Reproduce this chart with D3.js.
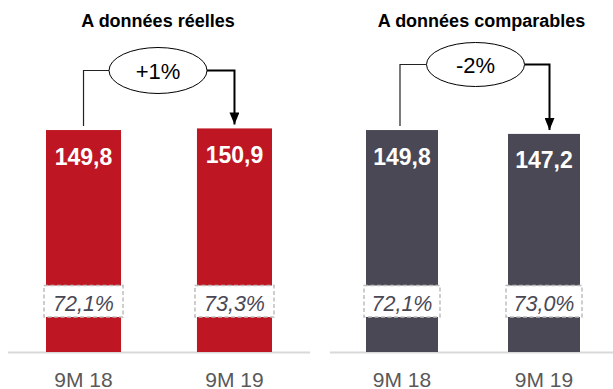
<!DOCTYPE html>
<html>
<head>
<meta charset="utf-8">
<script src="https://cdn.jsdelivr.net/npm/d3@7"></script>
<style>
  html, body { margin: 0; padding: 0; background: #fff; }
  svg { display: block; font-family: "Liberation Sans", Arial, sans-serif; }
</style>
</head>
<body>
<svg id="chart" width="613" height="389"></svg>
<script>
// Chart data
const categories = ["9M 18", "9M 19"];
const panelTitles = ["A données réelles", "A données comparables"];
const reportedValues = [149.8, 150.9];
const comparableValues = [149.8, 147.2];
const reportedRatios = ["72,1%", "73,3%"];
const comparableRatios = ["72,1%", "73,0%"];
const changeLabels = ["+1%", "-2%"];

const fmt = v => d3.format(".1f")(v).replace(".", ",");

const svg = d3.select("#chart");
const baseY = 352.5;
const y = d3.scaleLinear().domain([0, 160]).range([baseY, 114.9]);

const panels = [
  { title: panelTitles[0], values: reportedValues, ratios: reportedRatios, change: changeLabels[0],
    color: "#be1723", range: [8, 310], padIn: 0.503, padOut: 0.2517, line: [8, 310],
    titleX: 158, ell: { cx: 158, cy: 70.5, rx: 49, ry: 23 }, dx: [0, 0] },
  { title: panelTitles[1], values: comparableValues, ratios: comparableRatios, change: changeLabels[1],
    color: "#4a4854", range: [330, 616], padIn: 0.493, padOut: 0.2535, line: [330, 613],
    titleX: 481.5, ell: { cx: 475.5, cy: 64.5, rx: 49, ry: 22 }, dx: [-2, 5.5] }
];

// arrowhead marker, drawn along +x so orient="auto" points it down the path
svg.append("defs").append("marker")
  .attr("id", "arrow").attr("viewBox", "0 0 12 10")
  .attr("refX", 12).attr("refY", 5)
  .attr("markerWidth", 12).attr("markerHeight", 10)
  .attr("markerUnits", "userSpaceOnUse").attr("orient", "auto")
  .append("path").attr("d", "M0,0 L12,5 L0,10 Z").attr("fill", "#000");

panels.forEach(p => {
  const x = d3.scaleBand().domain(categories).range(p.range)
    .paddingInner(p.padIn).paddingOuter(p.padOut);
  const g = svg.append("g");

  // title
  g.append("text").attr("x", p.titleX).attr("y", 26.5)
    .attr("text-anchor", "middle").attr("font-size", 18).attr("font-weight", "bold")
    .attr("fill", "#000").text(p.title);

  // baseline
  g.append("line").attr("x1", p.line[0]).attr("x2", p.line[1])
    .attr("y1", baseY).attr("y2", baseY)
    .attr("stroke", "#d9d9d9").attr("stroke-width", 2);

  // bars
  g.selectAll("rect.bar").data(p.values).join("rect").attr("class", "bar")
    .attr("x", (d, i) => x(categories[i]))
    .attr("y", d => y(d))
    .attr("width", x.bandwidth())
    .attr("height", d => baseY - 0.5 - y(d))
    .attr("fill", p.color);

  // value labels
  g.selectAll("text.val").data(p.values).join("text").attr("class", "val")
    .attr("x", (d, i) => x(categories[i]) + x.bandwidth() / 2)
    .attr("y", d => y(d) + 34.5)
    .attr("text-anchor", "middle").attr("font-size", 23).attr("font-weight", "bold")
    .attr("fill", "#fff").text(d => fmt(d));

  // ratio boxes
  g.selectAll("rect.ratio").data(p.ratios).join("rect").attr("class", "ratio")
    .attr("x", (d, i) => x(categories[i]) - 2)
    .attr("y", 285.5)
    .attr("width", x.bandwidth() + 4)
    .attr("height", 31.5)
    .attr("fill", "#fff").attr("stroke", "#bdbdbd")
    .attr("stroke-width", 1.5).attr("stroke-dasharray", "4,2.5");
  g.selectAll("text.ratio").data(p.ratios).join("text").attr("class", "ratio")
    .attr("x", (d, i) => x(categories[i]) + x.bandwidth() / 2)
    .attr("y", 310.5)
    .attr("text-anchor", "middle").attr("font-size", 21.5).attr("font-style", "italic")
    .attr("fill", "#4a4854").text(d => d);

  // category labels
  g.selectAll("text.cat").data(categories).join("text").attr("class", "cat")
    .attr("x", d => x(d) + x.bandwidth() / 2)
    .attr("y", 386.5)
    .attr("text-anchor", "middle").attr("font-size", 21)
    .attr("fill", "#595959").text(d => d);

  // change connector
  const e = p.ell;
  const x0 = x(categories[0]) + x.bandwidth() / 2 + p.dx[0];
  const x1 = x(categories[1]) + x.bandwidth() / 2 + p.dx[1];
  g.append("path")
    .attr("d", `M${x0},${y(p.values[0]) - 4} V${e.cy} H${e.cx - e.rx}`)
    .attr("fill", "none").attr("stroke", "#222").attr("stroke-width", 1.2);
  g.append("path")
    .attr("d", `M${e.cx + e.rx},${e.cy} H${x1} V${y(p.values[1]) - 4}`)
    .attr("fill", "none").attr("stroke", "#000").attr("stroke-width", 2)
    .attr("marker-end", "url(#arrow)");
  g.append("ellipse").attr("cx", e.cx).attr("cy", e.cy).attr("rx", e.rx).attr("ry", e.ry)
    .attr("fill", "#fff").attr("stroke", "#000").attr("stroke-width", 1);
  g.append("text").attr("x", e.cx).attr("y", e.cy + 8.5)
    .attr("text-anchor", "middle").attr("font-size", 22).attr("fill", "#000").text(p.change);
});
</script>
</body>
</html>
